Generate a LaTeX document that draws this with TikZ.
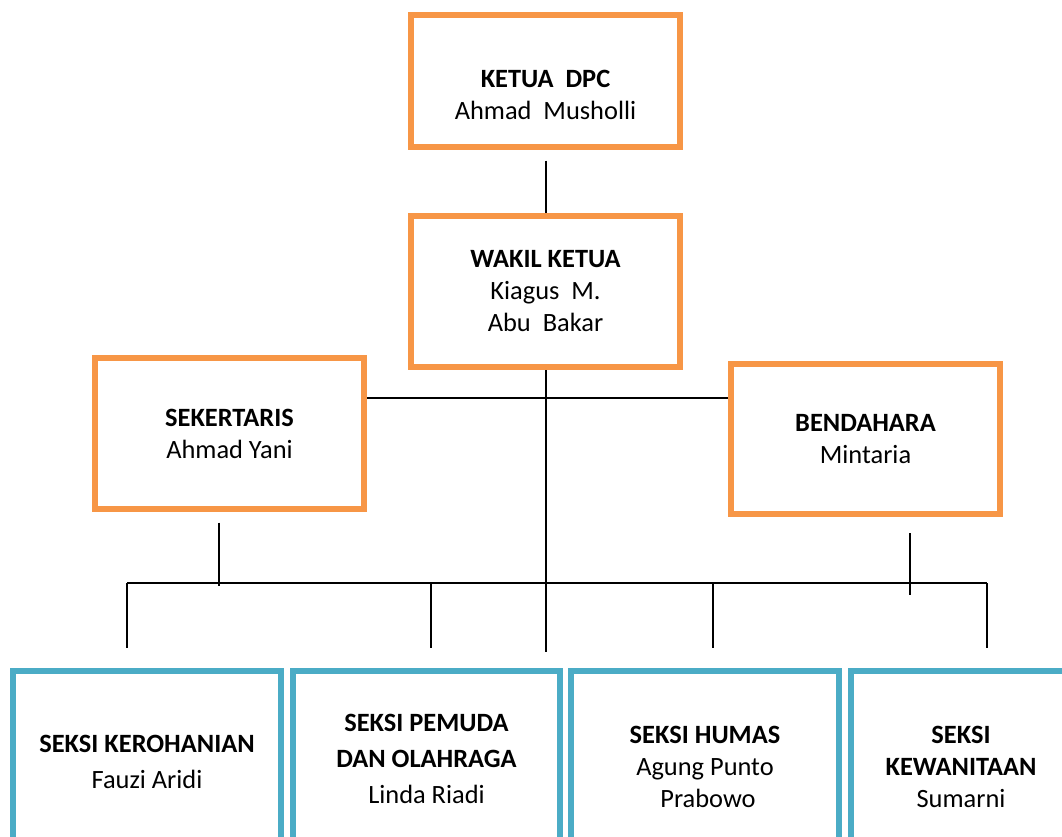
\documentclass[tikz,border=0pt]{standalone}
\usepackage{fontspec}
\setmainfont{Carlito}
\usepackage{tikz}
\usetikzlibrary{positioning}
\definecolor{inti}{HTML}{F79646}
\definecolor{seksi}{HTML}{4BACC6}
\tikzset{
  pengurus/.style={draw=inti, line width=4.5pt, align=center, inner sep=0pt,
    minimum width=201.75pt, font=\fontsize{19.8}{24}\selectfont},
  bidang/.style={draw=seksi, line width=4.5pt, align=center, inner sep=0pt,
    minimum width=201pt, font=\fontsize{19.8}{24}\selectfont},
  garis/.style={draw=black, line width=1.5pt},
}

\begin{document}
\begin{tikzpicture}[x=0.75pt, y=-0.75pt]
  \fill[white] (0,0) rectangle (1062,837);
  \clip (0,0) rectangle (1062,837);

  % pengurus harian
  \node[pengurus, minimum height=99pt] (ketua) at (545.5,81)
    {\mbox{}\\[10pt]\textbf{KETUA\ \ DPC}\\Ahmad\ \ Musholli};
  \node[pengurus, minimum height=113.25pt] (wakil) at (545.5,291.5)
    {\textbf{WAKIL KETUA}\\Kiagus\ \ M.\\Abu\ \ Bakar};
  \node[pengurus, minimum height=113.25pt] (sekertaris) at (229.5,433.5)
    {\textbf{SEKERTARIS}\\Ahmad Yani};
  \node[pengurus, minimum height=112.5pt] (bendahara) at (865.5,439)
    {\textbf{BENDAHARA}\\Mintaria};

  % seksi-seksi
  \node[bidang, minimum height=136.5pt, font=\fontsize{19.8}{27}\selectfont] (kerohanian) at (147,762)
    {\textbf{SEKSI KEROHANIAN}\\Fauzi Aridi};
  \node[bidang, minimum width=200.25pt, minimum height=132pt, font=\fontsize{19.8}{27}\selectfont] (pemuda) at (426.5,759)
    {\textbf{SEKSI PEMUDA}\\\textbf{DAN OLAHRAGA}\\Linda Riadi};
  \node[bidang, minimum height=143.25pt] (humas) at (705,766.5)
    {\textbf{SEKSI HUMAS}\\Agung Punto\\\ Prabowo};
  \node[bidang, minimum width=165pt, minimum height=143.25pt] (kewanitaan) at (961,766.5)
    {\textbf{SEKSI}\\\textbf{KEWANITAAN}\\Sumarni};

  % garis struktur
  \coordinate (simpang) at (545.5,398);
  \coordinate (pangkal) at (545.5,652);
  \coordinate (busL) at (127,583);
  \coordinate (busR) at (987,583);

  \draw[garis] ([yshift=-8pt]ketua.south) -- (wakil.north);
  \draw[garis] (wakil.south) -- (pangkal);
  \draw[garis] (sekertaris.east |- simpang) -- (bendahara.west |- simpang);
  \draw[garis] ([xshift=-8pt,yshift=-8pt]sekertaris.south) -- ++(0,63);
  \draw[garis] ([xshift=33.4pt,yshift=-12pt]bendahara.south) -- ++(0,62);
  \draw[garis] (busL) -- (busR);
  \foreach \x in {127,431,713,987}
    \draw[garis] (\x,583) -- ++(0,65);
\end{tikzpicture}
\end{document}
